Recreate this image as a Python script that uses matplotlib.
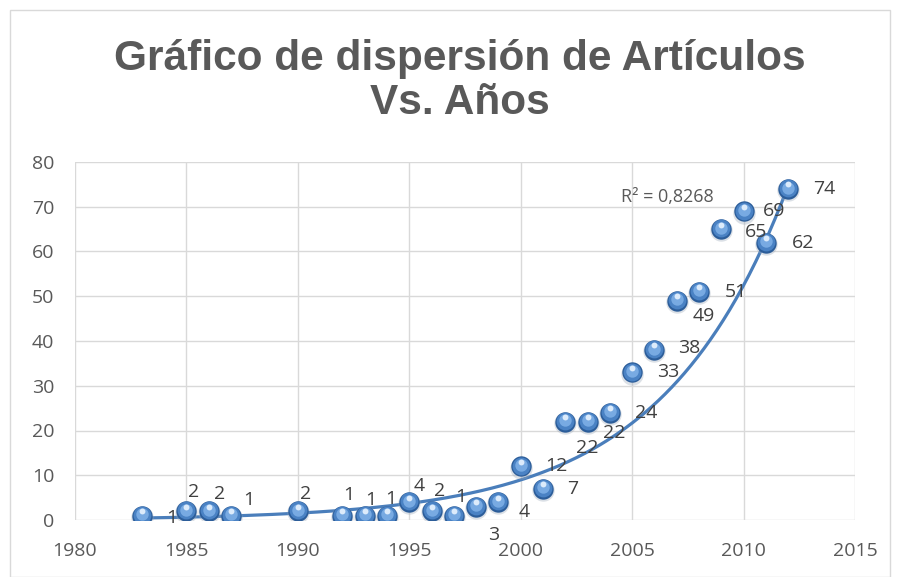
import numpy as np
import matplotlib.pyplot as plt
from matplotlib.patches import Rectangle

# data
years = [1983, 1985, 1986, 1987, 1990, 1992, 1993, 1994, 1995, 1996, 1997, 1998, 1999,
         2000, 2001, 2002, 2003, 2004, 2005, 2006, 2007, 2008, 2009, 2010, 2011, 2012]
articles = [1, 2, 2, 1, 2, 1, 1, 1, 4, 2, 1, 3, 4,
            12, 7, 22, 22, 24, 33, 38, 49, 51, 65, 69, 62, 74]

# label offsets in pixels (as placed in the original)
label_dx = [30, 7, 11, 18, 8, 6, 6, 4, 10, 8, 7, 17, 26,
            36, 30, 22, 27, 36, 36, 35, 27, 37, 35, 30, 37, 36]
label_dy = [-2, 19, 17, 16, 17, 21, 16, 17, 16, 20, 19, -28, -10,
            0, 0, -26, -11, 0, 0, 2, -15, 0, -3, 0, 0, 0]

title = 'Gráfico de dispersión de Artículos\nVs. Años'
gray = '#595959'

fig = plt.figure(figsize=(9, 5.77), dpi=100)
ax = fig.add_axes([75 / 900, 1 - 520 / 577, 780 / 900, 358 / 577])

x = np.array(years, dtype=float)
y = np.array(articles, dtype=float)

# exponential trendline (Excel style, fitted on ln y)
b, ln_a = np.polyfit(x, np.log(y), 1)
pred = ln_a + b * x
r2 = 1 - np.sum((np.log(y) - pred) ** 2) / np.sum((np.log(y) - np.log(y).mean()) ** 2)
xt = np.linspace(x.min(), x.max(), 300)
ax.plot(xt, np.exp(ln_a + b * xt), color='#4a7ebb', lw=2.3, zorder=2)

# shaded "sphere" markers
ax.scatter(x, y - 0.3, s=260, color='#9aa7b8', alpha=0.35, zorder=3, linewidths=0)
ax.scatter(x, y, s=215, color='#2c5d99', zorder=3, linewidths=0)
ax.scatter(x, y + 0.15, s=165, color='#4a82c4', zorder=4, linewidths=0)
ax.scatter(x, y + 0.3, s=80, color='#78aae2', zorder=5, linewidths=0)
ax.scatter(x, y + 1.0, s=18, color='#dcebfb', zorder=6, linewidths=0)

for xi, yi, dx, dy in zip(x, y, label_dx, label_dy):
    ax.annotate(f'{int(yi)}', (xi, yi), xytext=(dx, dy), textcoords='offset pixels',
                ha='center', va='center', fontsize=14, color='#404040',
                family='Open Sans', zorder=7)

ax.annotate(f'R² = {r2:.4f}'.replace('.', ','), (2006.6, 72.2), ha='center', va='center',
            fontsize=13, color=gray, family='Open Sans')

ax.set_xlim(1980, 2015)
ax.set_ylim(0, 80)
ax.set_xticks(range(1980, 2016, 5))
ax.set_yticks(range(0, 81, 10))
ax.grid(True, color='#d9d9d9', lw=1)
ax.set_axisbelow(True)
for s in ax.spines.values():
    s.set_visible(False)
ax.tick_params(length=0, labelsize=14, labelcolor=gray)
ax.tick_params(axis='x', pad=16)
ax.tick_params(axis='y', pad=15)
for lab in ax.get_xticklabels() + ax.get_yticklabels():
    lab.set_family('Open Sans')

fig.text(460 / 900, 1 - 81 / 577, title, ha='center', va='center', fontsize=30.5,
         fontweight='bold', color=gray, family='Liberation Sans', linespacing=1.1)

fig.patches.append(Rectangle((10 / 900, 0), 880 / 900, 1 - 10 / 577, transform=fig.transFigure,
                             fill=False, edgecolor='#d9d9d9', lw=1))

fig.savefig('out.png', dpi=100)
